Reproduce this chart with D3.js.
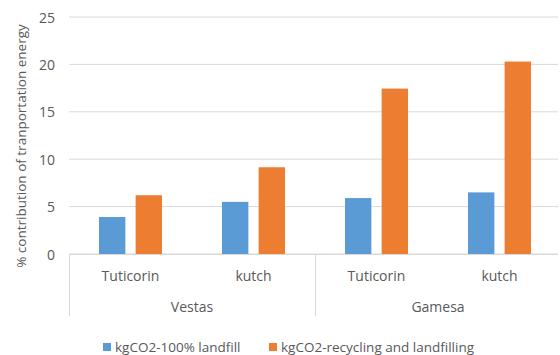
<!DOCTYPE html>
<html>
<head>
<meta charset="utf-8">
<script src="https://cdn.jsdelivr.net/npm/d3@7"></script>
<style>
  body { margin: 0; background: #fff; }
  svg text { font-family: "Open Sans", "Noto Sans", sans-serif; fill: #595959; }
</style>
</head>
<body>
<svg width="560" height="355"></svg>
<script>
const groups = ["Vestas", "Gamesa"];
const sites = ["Tuticorin", "kutch"];
const seriesNames = ["kgCO2-100% landfill", "kgCO2-recycling and landfilling"];
const landfill = [3.9, 5.5, 5.9, 6.5];
const recycling = [6.2, 9.15, 17.45, 20.3];
const yTicks = [0, 5, 10, 15, 20, 25];
const colors = ["#5B9BD5", "#ED7D31"];

const svg = d3.select("svg");
const plotL = 69, plotR = 561, plotT = 17, plotB = 254;

const cats = groups.flatMap(g => sites.map(s => g + "|" + s));
const x0 = d3.scaleBand().domain(cats).range([plotL, plotR]);
const x1 = d3.scaleBand().domain([0, 1]).range([0, 63]).paddingInner(0.28);
const y = d3.scaleLinear().domain([0, 25]).range([plotB, plotT]);

// gridlines
svg.append("g")
  .selectAll("line")
  .data(yTicks)
  .join("line")
  .attr("x1", plotL).attr("x2", 558)
  .attr("y1", d => y(d)).attr("y2", d => y(d))
  .attr("stroke", "#d9d9d9").attr("stroke-width", 1);

// y tick labels
svg.append("g")
  .selectAll("text")
  .data(yTicks)
  .join("text")
  .attr("x", 55).attr("y", d => y(d))
  .attr("text-anchor", "end")
  .attr("dominant-baseline", "central")
  .style("font-size", "14px")
  .text(d => d);

// bars
const rows = cats.map((c, i) => ({ cat: c, vals: [landfill[i], recycling[i]] }));
const grp = svg.append("g")
  .selectAll("g")
  .data(rows)
  .join("g")
  .attr("transform", d => `translate(${x0(d.cat) + (x0.bandwidth() - 63) / 2},0)`);

grp.selectAll("rect")
  .data(d => d.vals.map((v, k) => ({ k, v })))
  .join("rect")
  .attr("x", d => x1(d.k))
  .attr("width", x1.bandwidth())
  .attr("y", d => y(d.v))
  .attr("height", d => y(0) - y(d.v))
  .attr("fill", d => colors[d.k]);

// axis line and category dividers
svg.append("line")
  .attr("x1", plotL).attr("x2", 558)
  .attr("y1", plotB + 0.5).attr("y2", plotB + 0.5)
  .attr("stroke", "#d9d9d9");

const dividers = [plotL, x0(cats[2])];
svg.append("g")
  .selectAll("line")
  .data(dividers)
  .join("line")
  .attr("x1", d => Math.round(d) + 0.5).attr("x2", d => Math.round(d) + 0.5)
  .attr("y1", plotB).attr("y2", 316)
  .attr("stroke", "#d9d9d9");

// site labels
svg.append("g")
  .selectAll("text")
  .data(cats)
  .join("text")
  .attr("x", d => x0(d) + x0.bandwidth() / 2)
  .attr("y", 275)
  .attr("text-anchor", "middle")
  .attr("dominant-baseline", "central")
  .style("font-size", "14px")
  .text(d => d.split("|")[1]);

// group labels
svg.append("g")
  .selectAll("text")
  .data(groups)
  .join("text")
  .attr("x", (d, i) => x0(cats[i * 2]) + x0.bandwidth())
  .attr("y", 306)
  .attr("text-anchor", "middle")
  .attr("dominant-baseline", "central")
  .style("font-size", "14px")
  .text(d => d);

// y title
svg.append("text")
  .attr("transform", "translate(21,146) rotate(-90)")
  .attr("text-anchor", "middle")
  .attr("dominant-baseline", "central")
  .style("font-size", "13.5px")
  .text("% contribution of tranportation energy");

// legend
const legendX = [103, 269];
const legend = svg.append("g")
  .selectAll("g")
  .data(seriesNames)
  .join("g")
  .attr("transform", (d, i) => `translate(${legendX[i]},347)`);
legend.append("rect")
  .attr("x", 0).attr("y", -4)
  .attr("width", 8).attr("height", 8)
  .attr("fill", (d, i) => colors[i]);
legend.append("text")
  .attr("x", 12).attr("y", 0)
  .attr("dominant-baseline", "central")
  .style("font-size", "13.5px")
  .text(d => d);
</script>
</body>
</html>
